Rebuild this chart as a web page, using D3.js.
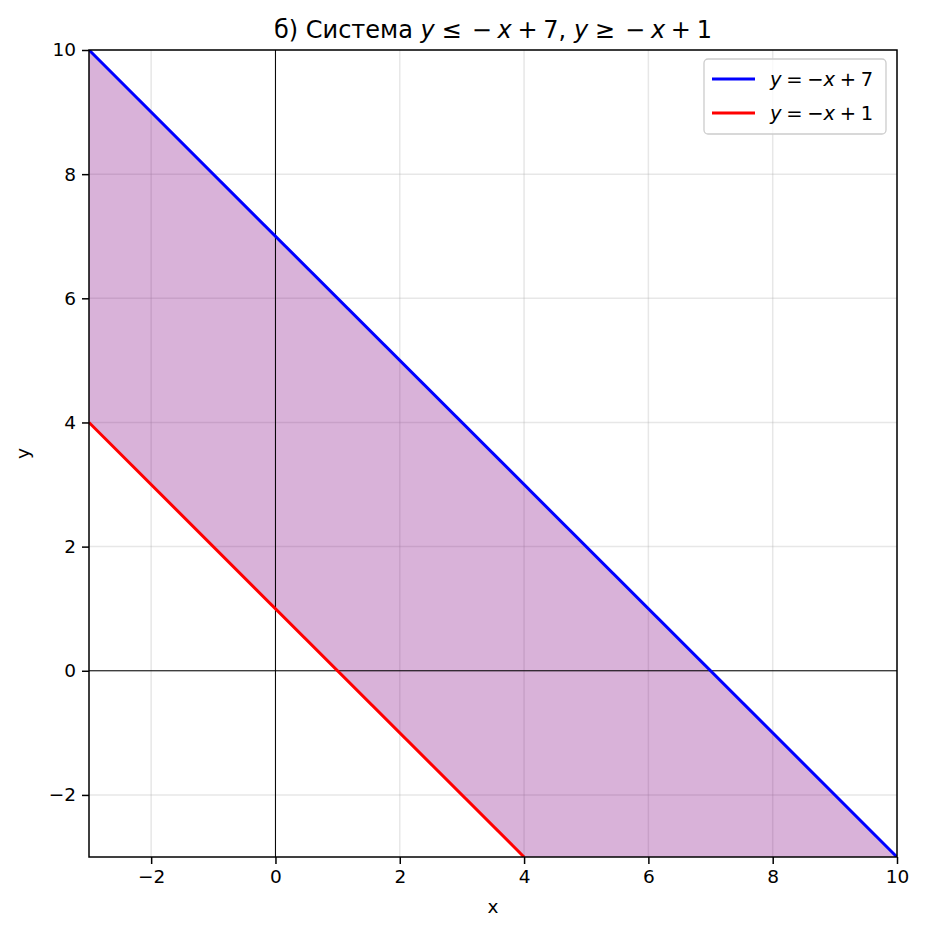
<!DOCTYPE html>
<html lang="en">
<head>
<meta charset="UTF-8" />
<title>system</title>
<style>
  body { margin: 0; background: #fff; }
  text { font-family: "DejaVu Sans", sans-serif; }
</style>
</head>
<body>
<div id="wrapper"></div>
<script src="https://d3js.org/d3.v7.min.js"></script>
<script>
// domain and ticks
const xDomain = [-3, 10];
const yDomain = [-3, 10];
const xTicks = [-2, 0, 2, 4, 6, 8, 10];
const yTicks = [-2, 0, 2, 4, 6, 8, 10];
// line endpoints (x, y)
const upperLine = [[-3, 10], [10, -3]];          // y = -x + 7
const lowerLine = [[-3, 4], [4, -3]];            // y = -x + 1
// shaded band between the two lines, clipped to the axes
const band = [[-3, 10], [10, -3], [4, -3], [-3, 4]];

const W = 925, H = 936;
const margin = {top: 50, right: 28, bottom: 79, left: 89};
const width = W - margin.left - margin.right,
      height = H - margin.top - margin.bottom;
const fs = 18.5;

const svg = d3.select("#wrapper").append("svg")
  .attr("width", W).attr("height", H);

const g = svg.append("g")
  .attr("transform", "translate(" + margin.left + "," + margin.top + ")");

const x = d3.scaleLinear().domain(xDomain).range([0, width]);
const y = d3.scaleLinear().domain(yDomain).range([height, 0]);

g.append("defs").append("clipPath").attr("id", "clip")
  .append("rect").attr("width", width).attr("height", height);

// grid
g.append("g").selectAll("line").data(xTicks).enter().append("line")
  .attr("x1", d => x(d)).attr("x2", d => x(d))
  .attr("y1", 0).attr("y2", height)
  .attr("stroke", "#b0b0b0").attr("stroke-opacity", 0.3).attr("stroke-width", 1.5);
g.append("g").selectAll("line").data(yTicks).enter().append("line")
  .attr("y1", d => y(d)).attr("y2", d => y(d))
  .attr("x1", 0).attr("x2", width)
  .attr("stroke", "#b0b0b0").attr("stroke-opacity", 0.3).attr("stroke-width", 1.5);

const plot = g.append("g").attr("clip-path", "url(#clip)");

// band
plot.append("path")
  .attr("d", d3.line().x(d => x(d[0])).y(d => y(d[1]))(band) + "Z")
  .attr("fill", "purple").attr("fill-opacity", 0.3);

// zero axes
plot.append("line").attr("x1", 0).attr("x2", width).attr("y1", y(0)).attr("y2", y(0))
  .attr("stroke", "#000").attr("stroke-width", 1);
plot.append("line").attr("x1", x(0)).attr("x2", x(0)).attr("y1", 0).attr("y2", height)
  .attr("stroke", "#000").attr("stroke-width", 1);

const line = d3.line().x(d => x(d[0])).y(d => y(d[1]));
plot.append("path").attr("d", line(upperLine))
  .attr("fill", "none").attr("stroke", "blue").attr("stroke-width", 3);
plot.append("path").attr("d", line(lowerLine))
  .attr("fill", "none").attr("stroke", "red").attr("stroke-width", 3);

// axes
const fmt = d => d < 0 ? "\u2212" + Math.abs(d) : d;
const xAxis = g.append("g").attr("transform", "translate(0," + height + ")")
  .call(d3.axisBottom(x).tickValues(xTicks).tickSize(7).tickPadding(6).tickFormat(fmt));
const yAxis = g.append("g")
  .call(d3.axisLeft(y).tickValues(yTicks).tickSize(7).tickPadding(6).tickFormat(fmt));
[xAxis, yAxis].forEach(a => {
  a.select(".domain").remove();
  a.selectAll("line").attr("stroke", "#000").attr("stroke-width", 1.5);
  a.selectAll("text").attr("font-size", fs).attr("font-family", "DejaVu Sans").attr("fill", "#000");
});

// frame
g.append("rect").attr("width", width).attr("height", height)
  .attr("fill", "none").attr("stroke", "#000").attr("stroke-width", 1.5);

// axis labels
svg.append("text").attr("x", margin.left + width / 2).attr("y", 913)
  .attr("text-anchor", "middle").attr("font-size", fs).text("x");
svg.append("text").attr("transform", "translate(29," + (margin.top + height / 2) + ") rotate(-90)")
  .attr("text-anchor", "middle").attr("font-size", fs).text("y");

// math-ish text helper: parts of [text, italic, gap before in em]
function mathText(sel, parts) {
  parts.forEach(p => {
    sel.append("tspan").attr("font-style", p[1] ? "oblique" : "normal")
      .attr("dx", (p[2] || 0) + "em")
      .attr("xml:space", "preserve").text(p[0]);
  });
}

const title = svg.append("text").attr("x", margin.left + width / 2).attr("y", 38)
  .attr("text-anchor", "middle").attr("font-size", 24);
mathText(title, [["б) Система ", false], ["y", true], ["≤", false, 0.28], ["−", false, 0.42],
  ["x", true, 0.24], ["+", false, 0.24], ["7,", false, 0.24], ["y", true, 0.32],
  ["≥", false, 0.28], ["−", false, 0.42], ["x", true, 0.24], ["+", false, 0.24], ["1", false, 0.24]]);

// legend
const legend = svg.append("g").attr("transform", "translate(704,59)");
legend.append("rect").attr("width", 182).attr("height", 75).attr("rx", 4)
  .attr("fill", "#fff").attr("fill-opacity", 0.8).attr("stroke", "#ccc").attr("stroke-width", 1.3);
const entries = [["blue", "7"], ["red", "1"]];
entries.forEach((e, i) => {
  const cy = 20 + i * 34;
  legend.append("line").attr("x1", 8).attr("x2", 51).attr("y1", cy).attr("y2", cy)
    .attr("stroke", e[0]).attr("stroke-width", 3);
  const t = legend.append("text").attr("x", 66).attr("y", cy + 7).attr("font-size", 19.5);
  mathText(t, [["y", true], ["=", false, 0.24], ["−", false, 0.24], ["x", true, 0],
    ["+", false, 0.24], [e[1], false, 0.24]]);
});
</script>
</body>
</html>
